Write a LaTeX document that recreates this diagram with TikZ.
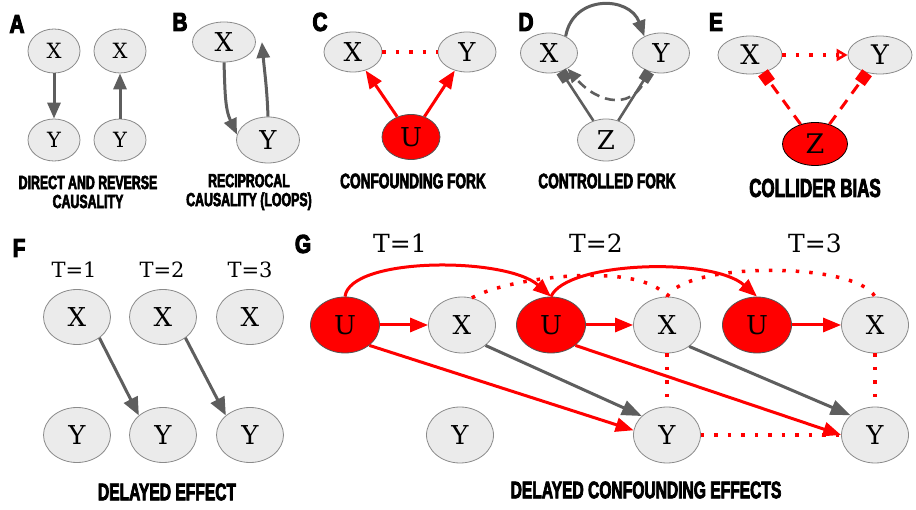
\documentclass[tikz,border=0pt]{standalone}
\usepackage{fontspec}
\usetikzlibrary{shapes.geometric,arrows.meta}
\newfontfamily\capfont{Liberation Sans}[FakeStretch=0.65,FakeBold=3]
\newfontfamily\lblfont{Liberation Sans}[FakeStretch=0.8,FakeBold=4]
\newfontfamily\nodefont{DejaVu Serif}
\definecolor{nodefill}{HTML}{EBEBEB}
\definecolor{nodeline}{HTML}{8A8A8A}
\definecolor{arrgray}{HTML}{5E5E5E}
\definecolor{myred}{HTML}{FF0000}
\begin{document}
\begin{tikzpicture}[x=1pt,y=1pt,
  nd/.style={ellipse, draw=nodeline, fill=nodefill, line width=0.8pt, inner sep=0pt, font=\nodefont\fontsize{26}{26}\selectfont},
  rnd/.style={nd, fill=myred, draw=nodeline!60!black},
  sz/.style 2 args={minimum width=#1pt, minimum height=#2pt},
  lbl/.style={font=\lblfont\bfseries\fontsize{26}{26}\selectfont, inner sep=0pt},
  capS/.style={font=\capfont\bfseries\fontsize{19}{19}\selectfont, align=center, inner sep=0pt},
  capM/.style={font=\capfont\bfseries\fontsize{21}{21}\selectfont, align=center, inner sep=0pt},
  capL/.style={font=\capfont\bfseries\fontsize{24}{24}\selectfont, inner sep=0pt},
  tlab/.style={font=\nodefont\fontsize{21}{21}\selectfont, inner sep=0pt},
  garr/.style={draw=arrgray, line width=3pt, -{Triangle[length=16pt,width=13pt]}},
  rarr/.style={draw=myred, line width=3pt, -{Triangle[length=18pt,width=14pt]}},
  rdot/.style={draw=myred, line width=3.5pt, dash pattern=on 3.5pt off 10pt},
  gdash/.style={draw=arrgray, line width=2.6pt, dash pattern=on 10pt off 6pt, -{Triangle[length=14pt,width=12pt]}},
  gsq/.style={draw=arrgray, line width=2.6pt, -{Square[length=11pt,width=11pt]}},
  rsq/.style={draw=myred, line width=3pt, dash pattern=on 11pt off 8pt, -{Square[length=12pt,width=12pt]}},
]
\useasboundingbox (0,0) rectangle (916,-510);

% ---------- A ----------
\node[lbl] (la) at (17,-24) {A};
\node[nd,sz={52}{44},font=\nodefont\fontsize{21}{21}\selectfont] (ax1) at (54,-51) {X};
\node[nd,sz={52}{42},font=\nodefont\fontsize{21}{21}\selectfont] (ay1) at (54,-140) {Y};
\node[nd,sz={52}{44},font=\nodefont\fontsize{21}{21}\selectfont] (ax2) at (120,-51) {X};
\node[nd,sz={52}{42},font=\nodefont\fontsize{21}{21}\selectfont] (ay2) at (120,-140) {Y};
\draw[garr] (ax1) -- (ay1);
\draw[garr] (ay2) -- (ax2);
\node[capS] (ca) at (88,-192) {DIRECT AND REVERSE\\CAUSALITY};

% ---------- B ----------
\node[lbl] (lb) at (180,-22) {B};
\node[nd,sz={63}{40}] (bx) at (224,-42) {X};
\node[nd,sz={63}{46}] (by) at (268,-140) {Y};
\draw[garr] (bx.south) to[out=-88, in=115] (by.170);
\draw[garr] (by.north) to[out=92, in=-85] ([xshift=6pt]bx.east);
\node[capS] (cb) at (249,-192) {RECIPROCAL\\CAUSALITY (LOOPS)};

% ---------- C ----------
\node[lbl] (lc) at (320,-22) {C};
\node[nd,sz={58}{40}] (cx) at (353,-52) {X};
\node[nd,sz={58}{40}] (cy) at (467,-52) {Y};
\node[rnd,sz={58}{45}] (cu) at (411,-137) {U};
\draw[rdot] (cx) -- (cy);
\draw[rarr] (cu) -- (cx);
\draw[rarr] (cu) -- (cy);
\node[capM] (cc) at (413,-181) {CONFOUNDING FORK};

% ---------- D ----------
\node[lbl] (ld) at (526,-22) {D};
\node[nd,sz={57}{40}] (dx) at (549,-53) {X};
\node[nd,sz={57}{40}] (dy) at (661,-53) {Y};
\node[nd,sz={57}{42}] (dz) at (606,-140) {Z};
\draw[garr] (dx.45) to[out=80, in=110, looseness=1.4] (dy.135);
\draw[gdash] (dy.235) .. controls +(-12,-42) and +(30,-35) .. (dx.-40);
\draw[gsq] (dz) -- (dx);
\draw[gsq] (dz) -- (dy);
\node[capM] (cd) at (607,-181) {CONTROLLED FORK};

% ---------- E ----------
\node[lbl] (le) at (716,-22) {E};
\node[nd,sz={64}{38},font=\nodefont\fontsize{27}{27}\selectfont] (ex) at (750,-55) {X};
\node[nd,sz={64}{38},font=\nodefont\fontsize{27}{27}\selectfont] (ey) at (880,-55) {Y};
\node[rnd,sz={65}{43},draw=black,font=\nodefont\fontsize{27}{27}\selectfont] (ez) at (815,-144) {Z};
\draw[rdot, -{Triangle[open,length=11pt,width=12pt,line width=2.5pt]}] (ex) -- (ey);
\draw[rsq] (ez) -- (ex);
\draw[rsq] (ez) -- (ey);
\node[font=\capfont\bfseries\fontsize{26}{26}\selectfont, inner sep=0pt] (ce) at (815,-188) {COLLIDER BIAS};

% ---------- F ----------
\node[lbl] (lf) at (19,-248) {F};
\node[tlab] (ft1) at (74,-270) {T=1};
\node[tlab] (ft2) at (162,-270) {T=2};
\node[tlab] (ft3) at (250,-270) {T=3};
\node[nd,sz={67}{55}] (fx1) at (77,-317) {X};
\node[nd,sz={67}{55}] (fx2) at (163,-317) {X};
\node[nd,sz={67}{55}] (fx3) at (250,-317) {X};
\node[nd,sz={67}{55}] (fy1) at (77,-435) {Y};
\node[nd,sz={67}{55}] (fy2) at (163,-435) {Y};
\node[nd,sz={67}{55}] (fy3) at (250,-435) {Y};
\draw[garr, -{Triangle[length=18pt,width=15pt]}] (fx1.-43) -- (fy2.141);
\draw[garr, -{Triangle[length=18pt,width=15pt]}] (fx2.-43) -- (fy3.141);
\node[capL] (cf) at (167,-492) {DELAYED EFFECT};

% ---------- G ----------
\node[lbl] (lg) at (303,-244) {G};
\node[tlab,font=\nodefont\fontsize{25}{25}\selectfont] (gt1) at (400,-243) {T=1};
\node[tlab,font=\nodefont\fontsize{25}{25}\selectfont] (gt2) at (596,-243) {T=2};
\node[tlab,font=\nodefont\fontsize{25}{25}\selectfont] (gt3) at (815,-243) {T=3};
\node[rnd,sz={69}{56}] (gu1) at (345,-325) {U};
\node[nd,sz={67}{56}] (gx1) at (462,-325) {X};
\node[rnd,sz={69}{56}] (gu2) at (551,-325) {U};
\node[nd,sz={67}{56}] (gx2) at (667,-325) {X};
\node[rnd,sz={69}{56}] (gu3) at (757,-325) {U};
\node[nd,sz={67}{56}] (gx3) at (875,-325) {X};
\node[nd,sz={67}{56}] (gy1) at (460,-435) {Y};
\node[nd,sz={67}{56}] (gy2) at (667,-435) {Y};
\node[nd,sz={67}{56}] (gy3) at (875,-435) {Y};
% dotted
\draw[rdot] (gx1.70) .. controls +(40,22) and +(-25,35) .. (gx2.north);
\draw[rdot] (gx2.north) .. controls +(20,35) and +(-20,35) .. (gx3.north);
\draw[rdot] (gx2) -- (gy2);
\draw[rdot] (gx3) -- (gy3);
\draw[rdot] (gy2) -- (gy3);
% red
\draw[rarr] (gu1) -- (gx1);
\draw[rarr] (gu2) -- (gx2);
\draw[rarr] (gu3) -- (gx3);
\draw[rarr] (gu1.north) .. controls +(5,40) and +(-45,40) .. (gu2.north);
\draw[rarr] (gu2.north) .. controls +(15,35) and +(-45,40) .. (gu3.north);
\draw[rarr] (gu1.-40) -- (gy2.172);
\draw[rarr] (gu2.-40) -- (gy3.180);
% gray
\draw[garr, -{Triangle[length=20pt,width=15pt]}] (gx1.-41) -- (gy2.143);
\draw[garr, -{Triangle[length=20pt,width=15pt]}] (gx2.-44) -- (gy3.141);
\node[capL] (cg) at (646,-490) {DELAYED CONFOUNDING EFFECTS};
\end{tikzpicture}
\end{document}
